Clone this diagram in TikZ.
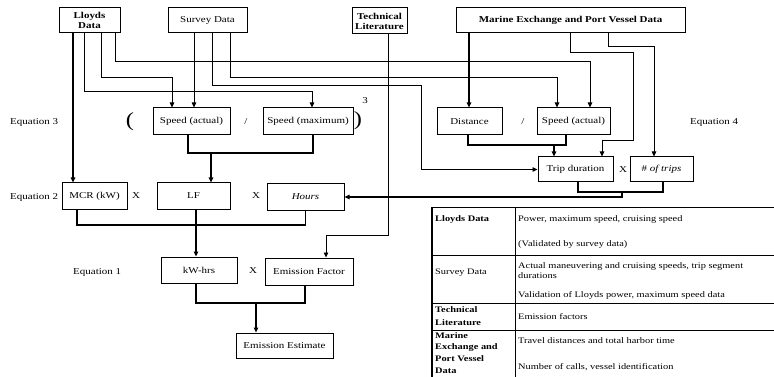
\documentclass[tikz,border=0pt]{standalone}
\usepackage{fontspec}
\setmainfont{Liberation Serif}[FakeStretch=1.22]
\usetikzlibrary{arrows.meta}
\begin{document}
\begin{tikzpicture}[x=1pt,y=-1pt,
  box/.style={draw,line width=1pt,inner sep=1pt,align=center,font=\fontsize{9}{10}\selectfont},
  bbox/.style={box,font=\fontsize{9}{10}\selectfont\bfseries},
  lbl/.style={inner sep=0pt,font=\fontsize{9}{10}\selectfont},
  tbl/.style={inner sep=0pt,anchor=west,font=\fontsize{8.5}{10}\selectfont},
  tblb/.style={tbl,font=\fontsize{8.5}{10}\selectfont\bfseries},
  thinln/.style={line width=0.8pt},
  thk/.style={line width=1.4pt},
  arr/.style={-{Triangle[length=5pt,width=4.5pt]}},
]
\useasboundingbox (0,0) rectangle (774,377);
\fill[white] (0,0) rectangle (774,377);

% source boxes
\node[bbox,minimum width=61pt,minimum height=25pt] (lloyds) at (89.5,20.5) {Lloyds\\Data};
\node[box,minimum width=79pt,minimum height=25pt] (survey) at (207.5,20.5) {Survey Data};
\node[bbox,minimum width=55pt,minimum height=26pt] (tech) at (379.5,21) {Technical\\Literature};
\node[bbox,minimum width=229pt,minimum height=25pt] (marine) at (570.5,20.5) {Marine Exchange and Port Vessel Data};

% equation 3 / 4
\node[box,minimum width=77pt,minimum height=27pt] (spdA) at (191.5,121.5) {Speed (actual)};
\node[box,minimum width=90pt,minimum height=27pt] (spdM) at (308,121.5) {Speed (maximum)};
\node[box,minimum width=65pt,minimum height=27pt] (dist) at (469.5,121.5) {Distance};
\node[box,minimum width=73pt,minimum height=27pt] (spdB) at (573.5,121.5) {Speed (actual)};
\node[box,minimum width=75pt,minimum height=25pt] (trip) at (575.5,169.5) {Trip duration};
\node[box,minimum width=63pt,minimum height=25pt] (ntrips) at (661.5,169.5) {\# \itshape of trips};

% equation 2
\node[box,minimum width=65pt,minimum height=26pt] (mcr) at (94.5,196) {MCR (kW)};
\node[box,minimum width=73pt,minimum height=26pt] (lf) at (193.5,196) {LF};
\node[box,minimum width=77pt,minimum height=26pt] (hours) at (305.5,197) {\itshape Hours};

% equation 1
\node[box,minimum width=76pt,minimum height=26pt] (kwh) at (199,270) {kW-hrs};
\node[box,minimum width=88pt,minimum height=27pt] (ef) at (309,271.5) {Emission Factor};
\node[box,minimum width=97pt,minimum height=25pt] (ee) at (284.5,345.5) {Emission Estimate};

% labels
\node[lbl,anchor=west] (eq3) at (10,122) {Equation 3};
\node[lbl] (lp) at (130,122) {\fontsize{20}{20}\selectfont (};
\node[lbl] (sl1) at (246,122) {/};
\node[lbl] (rp) at (358,121) {\fontsize{20}{20}\selectfont )};
\node[lbl] (cube) at (365,101) {3};
\node[lbl] (sl2) at (523,122) {/};
\node[lbl,anchor=west] (eq4) at (690,122) {Equation 4};
\node[lbl,anchor=west] (eq2) at (10,197) {Equation 2};
\node[lbl] (x1) at (136,196) {X};
\node[lbl] (x2) at (256,196) {X};
\node[lbl,anchor=west] (eq1) at (73,272) {Equation 1};
\node[lbl] (x3) at (253,271) {X};
\node[lbl] (x4) at (623,170) {X};

% feeders from Lloyds
\draw[thk,arr] ([xshift=-16.5pt]lloyds.south) -- ([xshift=-21.5pt]mcr.north);
\draw[thinln,arr] ([xshift=-5.5pt]lloyds.south) |- (312,91) -- ([xshift=4pt]spdM.north);
\draw[thinln,arr] ([xshift=11.5pt]lloyds.south) |- (172,77) -- ([xshift=-19.5pt]spdA.north);
\draw[thinln,arr] ([xshift=25.5pt]lloyds.south) |- (590,61) -- ([xshift=16.5pt]spdB.north);
% feeders from Survey
\draw[thinln,arr] ([xshift=-13.5pt]survey.south) -- ([xshift=2.5pt]spdA.north);
\draw[thinln,arr] ([xshift=4.5pt]survey.south) |- (421,85) |- (trip.west);
\draw[thinln,arr] ([xshift=22.5pt]survey.south) |- (557,77) -- ([xshift=-16.5pt]spdB.north);
% technical literature
\draw[thinln,arr] ([xshift=8.5pt]tech.south) |- (326,235) -- ([xshift=17pt]ef.north);
% marine exchange
\draw[thk,arr] ([xshift=-101.5pt]marine.south) -- ([xshift=-0.5pt]dist.north);
\draw[thinln,arr] ([xshift=-0.5pt]marine.south) |- (633,52) |- (602,140) -- ([xshift=26.5pt]trip.north);
\draw[thinln,arr] ([xshift=37.5pt]marine.south) |- (654,46) -- ([xshift=-7.5pt]ntrips.north);

% joins
\coordinate (j1) at (554,145);
\draw[thk] ([xshift=-1.5pt]dist.south) |- (566,145) -- ([xshift=-7.5pt]spdB.south);
\draw[thk,arr] (j1) -- ([xshift=-21.5pt]trip.north);

\coordinate (j2) at (211,153);
\draw[thk] ([xshift=-3.5pt]spdA.south) |- (313,153) -- ([xshift=5pt]spdM.south);
\draw[thk,arr] (j2) -- ([xshift=17.5pt]lf.north);

\coordinate (j3) at (196,225);
\draw[thk] ([xshift=-17.5pt]mcr.south) |- (305.5,225) -- (hours.south);
\draw[thk] ([xshift=2.5pt]lf.south) -- (j3);
\draw[thk,arr] (j3) -- ([xshift=-3pt]kwh.north);

\coordinate (j4) at (256,303);
\draw[thk] ([xshift=-3pt]kwh.south) |- (305,303) -- ([xshift=-4pt]ef.south);
\draw[thk,arr] (j4) -- ([xshift=-28.5pt]ee.north);

\coordinate (j5) at (622,192);
\draw[thk] ([xshift=2.5pt]trip.south) |- (663,192) -- ([xshift=1.5pt]ntrips.south);
\draw[thk,arr] (j5) |- (hours.east);

% table
\draw[line width=0.6pt] (432,207) -- (774,207);
\draw[line width=0.6pt] (432,255) -- (774,255);
\draw[line width=0.6pt] (432,303) -- (774,303);
\draw[line width=0.6pt] (432,330) -- (774,330);
\draw[line width=1.2pt] (432,207) -- (432,377);
\draw[line width=0.6pt] (515,207) -- (515,377);

\node[tblb] (t1a) at (435,219) {Lloyds Data};
\node[tbl] (t1b) at (518,219) {Power, maximum speed, cruising speed};
\node[tbl] (t1c) at (518,244) {(Validated by survey data)};
\node[tbl] (t2a) at (435,273) {Survey Data};
\node[tbl] (t2b) at (518,266) {Actual maneuvering and cruising speeds, trip segment};
\node[tbl] (t2c) at (518,276) {durations};
\node[tbl] (t2d) at (518,295) {Validation of Lloyds power, maximum speed data};
\node[tblb] (t3a) at (435,310) {Technical};
\node[tblb] (t3b) at (435,323) {Literature};
\node[tbl] (t3c) at (518,317) {Emission factors};
\node[tblb] (t4a) at (435,336) {Marine};
\node[tblb] (t4b) at (435,347.5) {Exchange and};
\node[tblb] (t4c) at (435,359) {Port Vessel};
\node[tblb] (t4d) at (435,370.5) {Data};
\node[tbl] (t4e) at (518,341) {Travel distances and total harbor time};
\node[tbl] (t4f) at (518,367) {Number of calls, vessel identification};
\end{tikzpicture}
\end{document}
